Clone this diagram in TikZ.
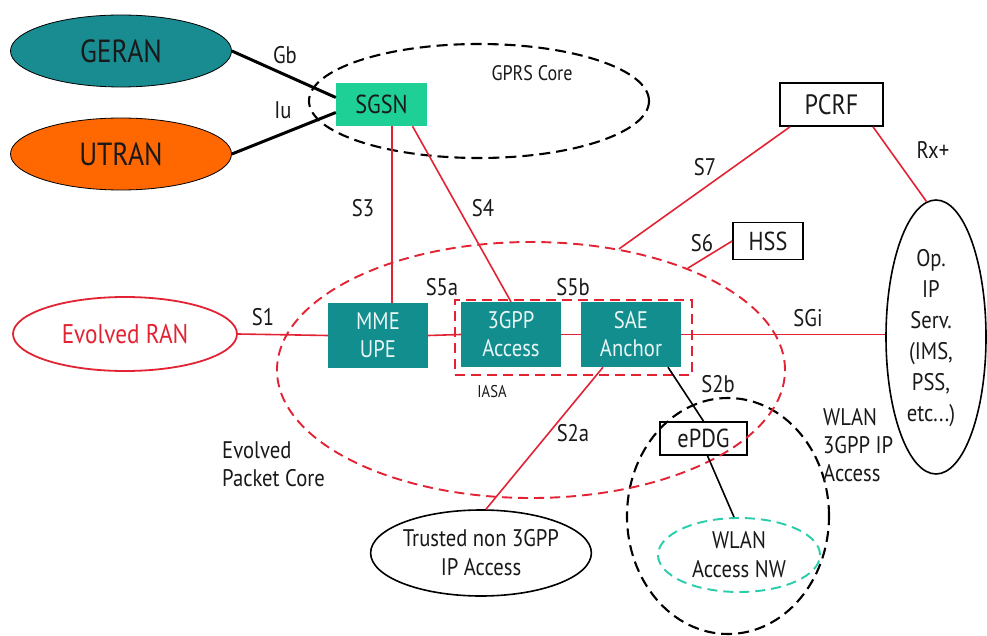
\documentclass[tikz,border=0pt]{standalone}
\usepackage{fontspec}
\setmainfont{PT Sans}[FakeStretch=0.86]
\usetikzlibrary{shapes.geometric,calc}
\definecolor{redl}{RGB}{226,35,52}
\definecolor{tealbox}{RGB}{18,142,142}
\definecolor{geranc}{RGB}{24,140,145}
\definecolor{utranc}{RGB}{255,103,0}
\definecolor{sgsnc}{RGB}{30,208,150}
\definecolor{wlanc}{RGB}{40,205,170}
\definecolor{txt}{RGB}{25,25,25}
\definecolor{boxtxt}{RGB}{235,245,245}
\tikzset{
  redline/.style={draw=redl, line width=1.6pt},
  blkline/.style={draw=black, line width=1.6pt},
  thickblk/.style={draw=black, line width=3pt},
  reddash/.style={draw=redl, line width=1.9pt, dash pattern=on 10pt off 6pt},
  blkdash/.style={draw=black, line width=2.1pt, dash pattern=on 11pt off 6pt},
  ranell/.style={ellipse, draw=black, line width=0.8pt, inner sep=0pt, font=\fontsize{32}{34}\selectfont, text=txt},
  tealnode/.style={rectangle, fill=tealbox, inner sep=0pt, minimum width=100pt, minimum height=65pt, align=center, text=boxtxt, font=\fontsize{24}{28}\selectfont},
  wbox/.style={rectangle, draw=black, line width=1.6pt, inner sep=0pt, text=txt},
  lbl/.style={text=txt, inner sep=0pt, font=\fontsize{24}{28}\selectfont},
}
\begin{document}
\begin{tikzpicture}[x=1pt,y=-1pt]
\useasboundingbox (0,0) rectangle (987,636);
\fill[white] (0,0) rectangle (987,636);

% ---- top left ----
\node[ranell, fill=geranc, minimum width=221pt, minimum height=72pt] (geran) at (121,51) {GERAN};
\node[ranell, fill=utranc, minimum width=221pt, minimum height=72pt] (utran) at (121,154) {UTRAN};
\node[ellipse, blkdash, minimum width=340pt, minimum height=114pt, inner sep=0pt] (gprs) at (479,101) {};
\node[lbl, font=\fontsize{21}{24}\selectfont] (gprslbl) at (532,73) {GPRS Core};
\node[rectangle, fill=sgsnc, inner sep=0pt, minimum width=91pt, minimum height=43pt, text=txt, font=\fontsize{26}{28}\selectfont] (sgsn) at (381.5,104.5) {SGSN};

\draw[thickblk] (geran.east) -- ([yshift=7pt]sgsn.west);
\draw[thickblk] (utran.east) -- ([yshift=-8pt]sgsn.west);
\node[lbl] (gb) at (285,55) {Gb};
\node[lbl] (iu) at (283,110) {Iu};

% ---- right top ----
\node[wbox, minimum width=103pt, minimum height=43pt, font=\fontsize{28}{30}\selectfont] (pcrf) at (831.5,104.5) {PCRF};
\node[wbox, minimum width=70pt, minimum height=37pt, font=\fontsize{26}{28}\selectfont] (hss) at (768,241) {HSS};
\node[ellipse, draw=black, line width=1.6pt, minimum width=100pt, minimum height=274pt, inner sep=0pt] (opip) at (936,337) {};
\node[text=txt, align=center, inner sep=0pt, font=\fontsize{24}{31}\selectfont] (optxt) at (931,338) {Op.\\IP\\Serv.\\(IMS,\\PSS,\\etc...)};

% ---- EPC ----
\node[ranell, draw=redl, line width=1.8pt, fill=white, text=redl, minimum width=224pt, minimum height=74pt, font=\fontsize{27}{30}\selectfont] (eran) at (125,334) {Evolved RAN};
\node[tealnode] (mme) at (378,335.5) {MME\\UPE};
\node[tealnode] (acc) at (511,334.5) {3GPP\\Access};
\node[tealnode] (sae) at (631,334.5) {SAE\\Anchor};
\node[rectangle, reddash, minimum width=237pt, minimum height=75pt, inner sep=0pt] (iasa) at (573.5,337.5) {};
\node[lbl, font=\fontsize{17}{20}\selectfont] (iasalbl) at (492,392) {IASA};

\node[wbox, minimum width=87pt, minimum height=33pt, font=\fontsize{26}{28}\selectfont] (epdg) at (703.5,438.5) {ePDG};
\node[ellipse, blkdash, minimum width=202pt, minimum height=236pt, inner sep=0pt] (wlanout) at (728,516) {};
\node[ellipse, draw=wlanc, line width=1.9pt, dash pattern=on 10pt off 6pt, minimum width=162pt, minimum height=74pt, inner sep=0pt, align=center, text=txt, font=\fontsize{24}{29}\selectfont] (wlan) at (739,555) {WLAN\\Access NW};
\node[ellipse, draw=black, line width=1.6pt, minimum width=211pt, minimum height=86pt, inner sep=0pt, align=center, text=txt, font=\fontsize{24}{29}\selectfont] (trusted) at (481,553) {Trusted non 3GPP\\IP Access};

\node[ellipse, reddash, minimum width=508pt, minimum height=256pt, inner sep=0pt] (epc) at (531,370) {};

% ---- connectors ----
\draw[redline] ([xshift=10.5pt]sgsn.south) -- ([xshift=10.5pt]sgsn.south |- mme.north);
\draw[redline] ([xshift=31pt]sgsn.south) -- (acc.north);
\draw[redline] (eran.east) -- (mme.west);
\draw[redline] (mme.east) -- (acc.west);
\draw[redline] (acc.east) -- (sae.west);
\draw[redline] (sae.east) -- (sae.east -| opip.west);
\draw[redline] ([xshift=-41.5pt]pcrf.south) -- (epc.54);
\draw[redline] ([xshift=41.5pt]pcrf.south) -- (opip.94);
\draw[redline] (hss.west) -- (epc.33);
\draw[redline] ([xshift=-28pt]sae.south) -- ([xshift=5pt]trusted.north);
\draw[blkline] ([xshift=37pt]sae.south) -- (epdg.north);
\draw[blkline] ([xshift=4pt]epdg.south) -- ([xshift=-5pt]wlan.north);

% ---- labels ----
\node[lbl] (s3) at (363,208) {S3};
\node[lbl] (s4) at (483,208) {S4};
\node[lbl] (s7) at (705,167) {S7};
\node[lbl] (rx) at (933,150) {Rx+};
\node[lbl] (s6) at (702,243) {S6};
\node[lbl] (s1) at (263,317) {S1};
\node[lbl] (s5a) at (442,287) {S5a};
\node[lbl] (s5b) at (573,287) {S5b};
\node[lbl] (sgi) at (808,318) {SGi};
\node[lbl] (s2a) at (573,433) {S2a};
\node[lbl] (s2b) at (718,384) {S2b};
\node[lbl, anchor=west, align=left] (epclbl) at (222,464) {Evolved\\Packet Core};
\node[lbl, anchor=west, align=left] (wlanlbl) at (823,445) {WLAN\\3GPP IP\\Access};
\end{tikzpicture}
\end{document}
